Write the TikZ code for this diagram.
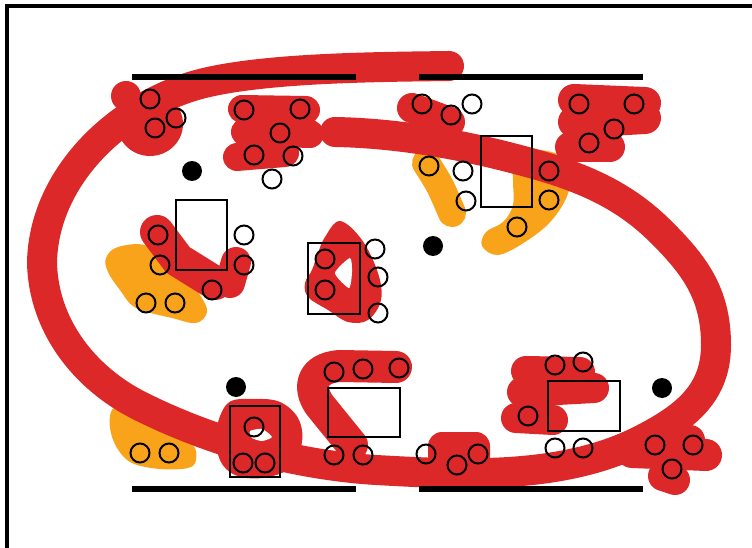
\documentclass[tikz,border=0pt]{standalone}
\definecolor{bandred}{RGB}{220,40,40}
\definecolor{orng}{RGB}{249,163,27}
\tikzset{
  redbrush/.style={draw=bandred, line width=#1, line cap=round, line join=round},
  orbrush/.style={draw=orng, line width=#1, line cap=round, line join=round},
  seat/.style={draw=black, line width=2pt, circle, minimum size=19pt, inner sep=0pt},
  blackdot/.style={fill=black, circle, minimum size=20pt, inner sep=0pt},
  tablebox/.style={draw=black, line width=2pt},
  bar/.style={draw=black, line width=6pt},
}
\begin{document}
\begin{tikzpicture}[x=1pt,y=-1pt]
\useasboundingbox (0,0) rectangle (752,548);
% orange areas (under the band)
\fill[orng] plot[smooth cycle, tension=0.6] coordinates {(106,258) (118,247) (148,246) (180,270) (200,295) (207,312) (196,323) (172,318) (136,308) (120,290) (108,272)};
\fill[orng] plot[smooth cycle, tension=0.6] coordinates {(112,410) (125,404) (140,414) (170,428) (193,445) (196,460) (188,468) (160,469) (132,463) (117,448) (110,428)};
\draw[orbrush=28pt] plot[smooth] coordinates {(426,163) (440,186) (452,213)};
\fill[orng] plot[smooth cycle, tension=0.6] coordinates {(514,155) (540,150) (566,160) (569,190) (552,220) (525,242) (498,255) (482,246) (486,232) (503,222) (513,205) (513,180)};
% the band
\draw[redbrush=30pt] (449,66) .. controls (384,67) and (252,67) .. (190,87)
  .. controls (112,112) and (44,180) .. (42,262)
  .. controls (43,325) and (84,378) .. (140,406)
  .. controls (212,442) and (295,465) .. (376,470)
  .. controls (465,475) and (566,480) .. (645,438)
  .. controls (687,416) and (716,392) .. (716,345)
  .. controls (716,293) and (694,264) .. (657,228)
  .. controls (612,185) and (560,170) .. (500,155)
  .. controls (447,142) and (390,133) .. (335,132);
% red blobs
\fill[bandred] (150,124) ellipse [x radius=33pt, y radius=32pt];
\fill[bandred] (126,96) circle [radius=15pt];
\draw[redbrush=28pt] (242,109) -- (306,110);
\draw[redbrush=28pt] (245,132) -- (310,134);
\draw[redbrush=28pt] (237,157) -- (285,153);
\draw[redbrush=30pt] (412,108) -- (450,122);
\draw[redbrush=32pt] (574,100) -- (645,103);
\draw[redbrush=32pt] (574,122) -- (645,118);
\draw[redbrush=30pt] (570,147) -- (610,147);
\draw[redbrush=34pt] (157,232) -- (178,260) -- (215,283);
\draw[redbrush=30pt] (236,262) -- (230,283);
\fill[bandred] plot[smooth cycle, tension=0.6] coordinates {(340,221) (362,240) (378,273) (381,300) (368,320) (348,322) (328,310) (308,297) (305,283) (312,270) (318,253) (325,237)};
\fill[white] plot[smooth cycle, tension=0.4] coordinates {(335,273) (350,258) (352,272) (349,288)};
\fill[bandred] plot[smooth cycle, tension=0.6] coordinates {(228,403) (255,399) (280,402) (298,418) (302,442) (290,468) (262,478) (235,475) (220,460) (216,432)};
\fill[white] plot[smooth cycle, tension=0.4] coordinates {(250,431) (262,429) (272,437) (262,441) (252,438)};
\draw[redbrush=32pt] (396,367) -- (340,366) .. controls (308,368) and (308,392) .. (322,408) -- (352,445);
\fill[bandred, rounded corners=14pt] (428,432) rectangle (490,488);
\draw[redbrush=30pt] (526,371) -- (580,372);
\draw[redbrush=30pt] (522,392) -- (594,388);
\draw[redbrush=30pt] (516,418) -- (553,420);
\draw[redbrush=32pt] (632,452) -- (706,455);
\draw[redbrush=30pt] (663,476) -- (675,480);
\draw[redbrush=30pt] (665,443) -- (690,440);
% tables
\draw[tablebox] (176,200) rectangle (227,270);
\draw[tablebox] (308,243) rectangle (360,314);
\draw[tablebox] (481,136) rectangle (532,207);
\draw[tablebox] (328,388) rectangle (400,437);
\draw[tablebox] (230,406) rectangle (280,477);
\draw[tablebox] (548,381) rectangle (620,431);
% seats
\foreach \n/\p in {a1/{150,99}, a2/{176,118}, a3/{155,128},
  b1/{244,110}, b2/{300,109}, b3/{280,133}, b4/{254,155}, b5/{293,156}, b6/{272,179},
  c1/{422,104}, c2/{451,115}, c3/{472,104},
  d1/{579,104}, d2/{634,104}, d3/{614,129}, d4/{589,143},
  e1/{429,166}, e2/{463,171}, e3/{466,201}, f1/{549,171}, f2/{549,200}, f3/{517,227},
  g1/{158,235}, g2/{160,265}, g3/{244,235}, g4/{244,265}, g5/{212,290}, h1/{146,303}, h2/{175,303},
  i1/{325,259}, i2/{325,290}, i3/{375,249}, i4/{378,277}, i5/{378,313},
  j1/{140,453}, j2/{169,453},
  k1/{254,427}, k2/{243,463}, k3/{265,463},
  l1/{334,372}, l2/{363,369}, l3/{399,368}, l4/{334,455}, l5/{363,455},
  m1/{426,454}, m2/{457,465}, m3/{478,454},
  n1/{555,365}, n2/{583,362}, n3/{528,416}, n4/{555,448}, n5/{583,448},
  o1/{655,445}, o2/{693,445}, o3/{672,469}}
  {\node[seat] (\n) at (\p) {};}
% black dots
\node[blackdot] (dot1) at (192,171) {};
\node[blackdot] (dot2) at (433,246) {};
\node[blackdot] (dot3) at (236,387) {};
\node[blackdot] (dot4) at (662,388) {};
% bars
\draw[bar] (132,77) -- (356,77);
\draw[bar] (419,77) -- (643,77);
\draw[bar] (132,489) -- (356,489);
\draw[bar] (419,489) -- (643,489);
% frame
\draw[line width=4pt, line join=miter] (7,550) -- (7,6) -- (754,6);
\end{tikzpicture}
\end{document}
